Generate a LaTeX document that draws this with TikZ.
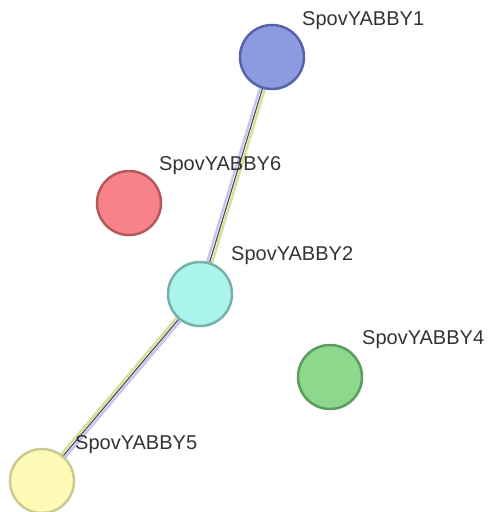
\documentclass[tikz,border=0pt]{standalone}
\usepackage{fontspec}
\setmainfont{Liberation Sans}
\usetikzlibrary{backgrounds}
\definecolor{lavl}{HTML}{C4C4F6}
\definecolor{darkl}{HTML}{505050}
\definecolor{yell}{HTML}{D2E294}
\definecolor{txt}{HTML}{333333}
\definecolor{f1}{HTML}{8C9AE0}\definecolor{d1}{HTML}{5862AA}
\definecolor{f6}{HTML}{F8828A}\definecolor{d6}{HTML}{B45A5E}
\definecolor{f2}{HTML}{AAF4EC}\definecolor{d2}{HTML}{74B2AA}
\definecolor{f4}{HTML}{8CD88C}\definecolor{d4}{HTML}{5C9C5C}
\definecolor{f5}{HTML}{FEFBB6}\definecolor{d5}{HTML}{CACA92}
\tikzset{
  prot/.style={circle, minimum size=64pt, inner sep=0pt, line width=2.5pt},
  lab/.style={anchor=west, inner sep=0pt, text=txt, font=\fontsize{20}{20}\selectfont},
  lav/.style={draw=lavl, line width=2.4pt},
  drk/.style={draw=darkl, line width=1.2pt},
  ylw/.style={draw=yell, line width=2.4pt},
}
\begin{document}
\begin{tikzpicture}[x=1pt,y=-1pt]
\useasboundingbox (0,0) rectangle (489,512);
\node[prot, fill=f1, draw=d1] (n1) at (272,57) {};
\node[prot, fill=f6, draw=d6] (n6) at (129,203) {};
\node[prot, fill=f2, draw=d2] (n2) at (200,294) {};
\node[prot, fill=f4, draw=d4] (n4) at (330,377) {};
\node[prot, fill=f5, draw=d5] (n5) at (42,481) {};
\node[lab] (l1) at (302,21) {SpovYABBY1};
\node[lab] (l6) at (159,166) {SpovYABBY6};
\node[lab] (l2) at (231,256) {SpovYABBY2};
\node[lab] (l4) at (362,340) {SpovYABBY4};
\node[lab] (l5) at (75,445) {SpovYABBY5};
\begin{pgfonlayer}{background}
\draw[lav, transform canvas={shift={(-2.4,-0.73)}}] (n1.center) -- (n2.center);
\draw[ylw, transform canvas={shift={(2.4,0.73)}}] (n1.center) -- (n2.center);
\draw[drk] (n1.center) -- (n2.center);
\draw[lav, transform canvas={shift={(1.9,1.6)}}] (n2.center) -- (n5.center);
\draw[ylw, transform canvas={shift={(-1.9,-1.6)}}] (n2.center) -- (n5.center);
\draw[drk] (n2.center) -- (n5.center);
\end{pgfonlayer}
\end{tikzpicture}
\end{document}
